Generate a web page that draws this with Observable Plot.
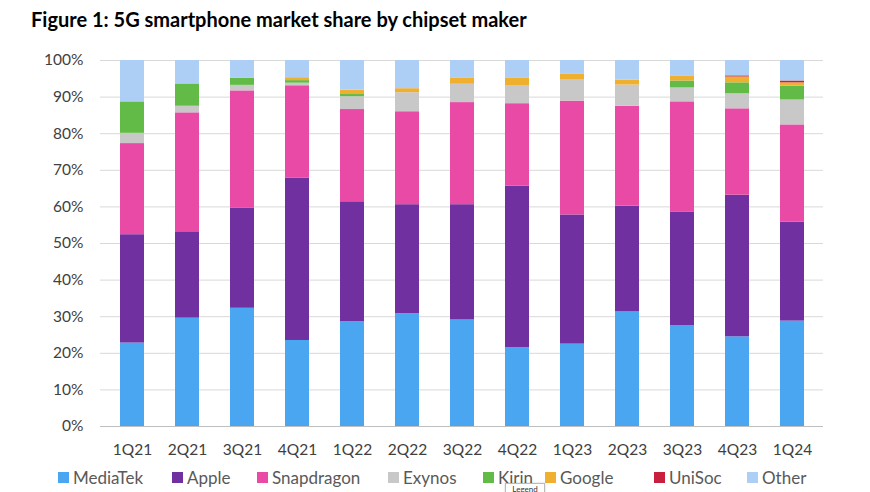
<!DOCTYPE html>
<html>
<head>
<meta charset="utf-8">
<script src="https://cdn.jsdelivr.net/npm/d3@7"></script>
<script src="https://cdn.jsdelivr.net/npm/@observablehq/plot@0.6"></script>
<style>
  html, body { margin: 0; padding: 0; background: #fff; }
  body { width: 870px; height: 492px; position: relative; overflow: hidden; font-family: Lato, "Open Sans", sans-serif; }
  #title { position: absolute; left: 31px; top: 7px; font-size: 20px; font-weight: 700; color: #000; white-space: nowrap; }
  #chart { position: absolute; left: 0; top: 45px; }
  #legend { position: absolute; left: 0; top: 464px; width: 870px; height: 26px; }
  .item { position: absolute; top: 0; height: 26px; display: flex; align-items: center; font-size: 17px; color: #595959; white-space: nowrap; }
  .sw { width: 11px; height: 11px; margin-right: 4px; }
  #tip { position: absolute; left: 505px; top: 483px; width: 38px; height: 11px; background: #fff; border: 1px solid #bbb; font-size: 8px; color: #333; text-align: center; line-height: 10px; box-shadow: 0 0 2px rgba(0,0,0,0.2); }
</style>
</head>
<body>
<div id="title">Figure 1: 5G smartphone market share by chipset maker</div>
<div id="chart"></div>
<div id="legend"></div>
<div id="tip">Legend</div>
<script>
const quarters = ["1Q21","2Q21","3Q21","4Q21","1Q22","2Q22","3Q22","4Q22","1Q23","2Q23","3Q23","4Q23","1Q24"];
const makers = ["MediaTek","Apple","Snapdragon","Exynos","Kirin","Google","UniSoc","Other"];
const mediatek   = [22.8, 29.6, 32.3, 23.5, 28.6, 30.8, 29.1, 21.5, 22.5, 31.3, 27.6, 24.5, 28.8];
const apple      = [29.6, 23.6, 27.3, 44.4, 32.8, 29.8, 31.5, 44.2, 35.3, 28.9, 30.9, 38.7, 27.0];
const snapdragon = [24.9, 32.5, 32.1, 25.2, 25.2, 25.4, 27.9, 22.5, 31.1, 27.3, 30.2, 23.6, 26.6];
const exynos     = [2.8, 1.8, 1.5, 0.7, 3.5, 5.2, 5.0, 4.8, 5.9, 5.8, 3.8, 4.1, 6.8];
const kirin      = [8.6, 6.1, 1.9, 0.7, 0.6, 0, 0, 0, 0, 0, 1.9, 3.0, 3.8];
const google     = [0, 0, 0, 0.8, 1.2, 1.1, 1.6, 2.1, 1.4, 1.3, 1.4, 1.6, 0.9];
const unisoc     = [0, 0, 0, 0, 0, 0, 0, 0, 0, 0, 0, 0.3, 0.5];
const other      = [11.3, 6.4, 4.9, 4.7, 8.1, 7.7, 4.9, 4.9, 3.8, 5.4, 4.2, 4.2, 5.6];
const yTicks = [0, 10, 20, 30, 40, 50, 60, 70, 80, 90, 100];

const colors = ["#4ba6f1", "#7030a0", "#e94aa6", "#c8c8c8", "#62bb46", "#f0b02f", "#c8203c", "#aecff5"];
const seriesValues = [mediatek, apple, snapdragon, exynos, kirin, google, unisoc, other];

const data = [];
quarters.forEach((q, i) => {
  makers.forEach((m, j) => {
    data.push({quarter: q, maker: m, value: seriesValues[j][i]});
  });
});

const chart = Plot.plot({
  width: 870,
  height: 420,
  marginLeft: 100,
  marginRight: 47,
  marginTop: 15,
  marginBottom: 39,
  style: {fontFamily: "Lato, 'Open Sans', sans-serif", fontSize: "15.5px", color: "#404040", background: "#fff"},
  x: {domain: quarters, paddingInner: 0.568, paddingOuter: 0.284, label: null, tickSize: 0, tickPadding: 17},
  y: {domain: [0, 100], ticks: yTicks, tickFormat: d => d + "%", label: null, tickSize: 0, tickPadding: 17},
  color: {domain: makers, range: colors},
  marks: [
    Plot.ruleY(yTicks.filter(d => d > 0), {stroke: "#d9d9d9", strokeWidth: 1}),
    Plot.ruleY([0], {stroke: "#bfbfbf", strokeWidth: 1}),
    Plot.barY(data, {x: "quarter", y: "value", fill: "maker", order: makers}),
  ]
});
document.getElementById("chart").appendChild(chart);

const legendLefts = [58, 172, 257, 388, 483, 545, 654, 747];
const legend = document.getElementById("legend");
makers.forEach((m, j) => {
  const it = document.createElement("div");
  it.className = "item";
  it.style.left = legendLefts[j] + "px";
  it.innerHTML = `<span class="sw" style="background:${colors[j]}"></span><span>${m}</span>`;
  legend.appendChild(it);
});
</script>
</body>
</html>
